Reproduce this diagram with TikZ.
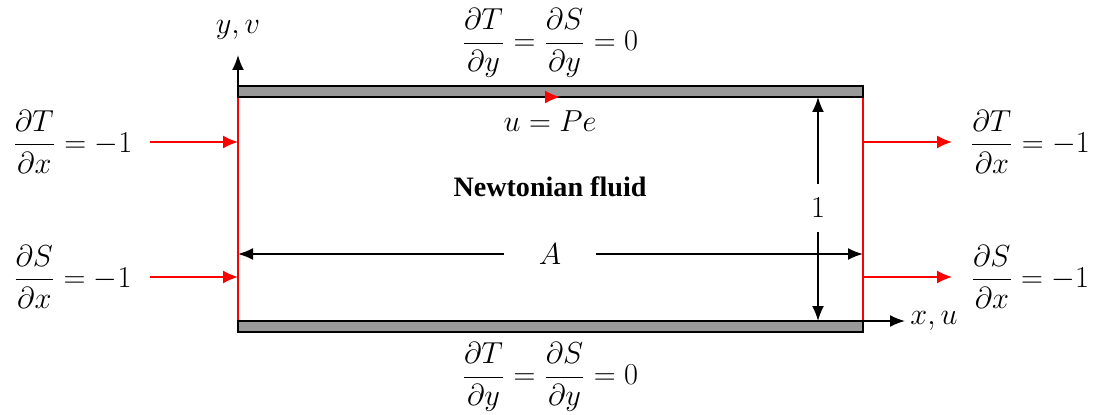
\documentclass[tikz,border=0pt]{standalone}
\usepackage{fontspec}
\newfontfamily\fluidfont{Liberation Serif}
\usepackage{tikz}
\usetikzlibrary{arrows.meta,positioning,calc}
\usepackage{xcolor}
\definecolor{plategray}{HTML}{999999}
\tikzset{
  plate/.style={draw=black, line width=1pt, fill=plategray},
  wall/.style={draw=red, line width=1pt},
  flux/.style={-{Latex[length=3mm,width=2.6mm]}, line width=1pt, draw=red},
  axis/.style={-{Latex[length=3mm,width=2.4mm]}, line width=1pt, draw=black},
  dim/.style={-{Latex[length=3mm,width=2.4mm]}, line width=1pt, draw=black},
  lbl/.style={font=\fontsize{18}{21}\selectfont, inner sep=0pt}
}
\begin{document}
\begin{tikzpicture}
  \useasboundingbox (0,0) rectangle (21.92,8.28);
  % channel corners
  \coordinate (bl) at (4.76,1.86);
  \coordinate (br) at (17.26,1.86);
  \coordinate (tl) at (4.76,6.34);
  \coordinate (tr) at (17.26,6.34);
  % plates and walls
  \draw[wall] (bl) -- (tl);
  \draw[wall] (br) -- (tr);
  \draw[plate] (4.76,6.34) rectangle (17.26,6.56);
  \draw[plate] (4.76,1.64) rectangle (17.26,1.86);
  % axes
  \node[lbl] (ylab) at (4.76,7.68) {$y,v$};
  \node[lbl, anchor=west] (xlab) at (18.2,1.86) {$x,u$};
  \coordinate (ytip) at (4.76,7.18);
  \coordinate (xtip) at (18.1,1.86);
  \draw[axis] (4.76,6.56) -- (ytip);
  \draw[axis] (br) -- (xtip);
  % boundary conditions
  \node[lbl] (top) at (11,7.42) {$\displaystyle\frac{\partial T}{\partial y}=\frac{\partial S}{\partial y}=0$};
  \node[lbl] (bot) at (11,0.74) {$\displaystyle\frac{\partial T}{\partial y}=\frac{\partial S}{\partial y}=0$};
  \node[lbl] (inT) at (1.45,5.44) {$\displaystyle\frac{\partial T}{\partial x}=-1$};
  \node[lbl] (inS) at (1.45,2.74) {$\displaystyle\frac{\partial S}{\partial x}=-1$};
  \node[lbl] (outT) at (20.6,5.44) {$\displaystyle\frac{\partial T}{\partial x}=-1$};
  \node[lbl] (outS) at (20.6,2.74) {$\displaystyle\frac{\partial S}{\partial x}=-1$};
  \coordinate (inT0) at (3.0,5.44);
  \coordinate (inT1) at (4.76,5.44);
  \coordinate (inS0) at (3.0,2.74);
  \coordinate (inS1) at (4.76,2.74);
  \coordinate (outT0) at (17.26,5.44);
  \coordinate (outT1) at (19.04,5.44);
  \coordinate (outS0) at (17.26,2.74);
  \coordinate (outS1) at (19.04,2.74);
  \draw[flux] (inT0) -- (inT1);
  \draw[flux] (inS0) -- (inS1);
  \draw[flux] (outT0) -- (outT1);
  \draw[flux] (outS0) -- (outS1);
  % moving lid
  \node[lbl] (lid) at (11.0,5.86) {$u=Pe$};
  \coordinate (lid0) at (10.9,6.34);
  \coordinate (lid1) at (11.2,6.34);
  \draw[flux] (lid0) -- (lid1);
  \node[font=\fluidfont\bfseries\fontsize{16}{19}\selectfont] (fluid) at (11,4.54) {Newtonian fluid};
  % dimensions
  \node[lbl, inner ysep=8pt] (hgt) at (16.36,4.12) {$1$};
  \draw[dim] (hgt) -- (16.36,6.34);
  \draw[dim] (hgt) -- (16.36,1.86);
  \node[lbl, minimum width=1.84cm] (len) at (11,3.2) {$A$};
  \draw[dim] (len) -- (4.76,3.2);
  \draw[dim] (len) -- (17.26,3.2);
\end{tikzpicture}
\end{document}
